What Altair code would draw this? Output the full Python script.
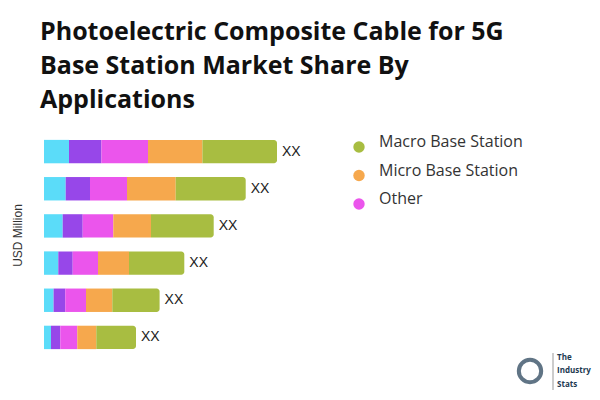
import altair as alt
import pandas as pd

categories = ["C1", "C2", "C3", "C4", "C5", "C6"]
series = ["Segment A", "Segment B", "Other", "Micro Base Station", "Macro Base Station"]
colors = ["#5BDCF9", "#9747E9", "#EB55EC", "#F6A84D", "#A8BD41"]
seg_a = [25.0, 21.7, 18.7, 14.3, 9.6, 7.0]
seg_b = [32.4, 24.3, 20.0, 14.4, 11.7, 9.3]
other = [46.6, 37.0, 30.6, 25.3, 20.7, 17.0]
micro = [54.4, 48.7, 37.7, 31.0, 26.3, 19.0]
macro = [74.6, 70.0, 62.7, 55.3, 47.3, 39.7]
label_text = "XX"
legend_items = ["Macro Base Station", "Micro Base Station", "Other"]
logo_lines = ["The", "Industry", "Stats"]

rows = []
for i, c in enumerate(categories):
    for j, (s, vals) in enumerate(zip(series, [seg_a, seg_b, other, micro, macro])):
        rows.append({"cat": c, "series": s, "order": j, "value": vals[i]})
df = pd.DataFrame(rows)

color_scale = alt.Scale(domain=series, range=colors)
y_enc = alt.Y("cat:N", sort=categories,
              scale=alt.Scale(paddingInner=0.37, paddingOuter=0.185),
              axis=alt.Axis(labels=False, ticks=False, domain=False, title="USD Million",
                            titleFont="Liberation Sans", titleFontSize=12, titleFontWeight="normal",
                            titleColor="#333333", titleAngle=270, titleX=-27, titleY=102,
                            titleBaseline="middle", titleAlign="center"))
x_scale = alt.Scale(domain=[0, 300], nice=False)

base = alt.Chart(df).transform_stack(
    stack="value", groupby=["cat"], as_=["x0", "x1"],
    sort=[alt.SortField("order", order="ascending")])

bars = base.transform_filter(alt.datum.series != "Macro Base Station").mark_bar().encode(
    x=alt.X("x0:Q", scale=x_scale, axis=None),
    x2="x1:Q",
    y=y_enc,
    color=alt.Color("series:N", scale=color_scale,
                    legend=alt.Legend(values=legend_items,
                                      title=None, orient="none", legendX=307, legendY=6,
                                      symbolType="circle", symbolSize=130, labelFontSize=16,
                                      labelFont="Open Sans", labelColor="#333333",
                                      labelOffset=12, rowPadding=9.5, labelBaseline="alphabetic",
                                      padding=0)),
)
end_bars = base.transform_filter(alt.datum.series == "Macro Base Station").mark_bar(
    cornerRadiusTopRight=3, cornerRadiusBottomRight=3).encode(
    x=alt.X("x0:Q", scale=x_scale, axis=None),
    x2="x1:Q",
    y=y_enc,
    color=alt.Color("series:N", scale=color_scale),
)

labels = alt.Chart(df).transform_aggregate(total="sum(value)", groupby=["cat"]).transform_calculate(
    lab=f"'{label_text}'").mark_text(align="left", baseline="middle", dx=5, fontSize=14,
                                     font="Liberation Sans", color="#222222").encode(
    x=alt.X("total:Q", scale=x_scale, axis=None),
    y=alt.Y("cat:N", sort=categories),
    text="lab:N",
)

logo_df = pd.DataFrame({"t": logo_lines, "yy": [225, 238, 252]})
logo = alt.Chart(logo_df).mark_text(align="left", baseline="middle", fontSize=8, fontWeight="bold",
                                    font="Open Sans", color="#1d3a52").encode(
    x=alt.value(513), y=alt.Y("yy:Q", scale=None), text="t:N")
ring = alt.Chart(pd.DataFrame({"a": [1]})).mark_point(shape="circle", filled=False, size=500,
                                                       strokeWidth=4, color="#1d3a52").encode(
    x=alt.value(486), y=alt.value(238))
sep = alt.Chart(pd.DataFrame({"a": [1]})).mark_rule(color="#999999", strokeWidth=1).encode(
    x=alt.value(509), y=alt.value(220), y2=alt.value(257))

chart = alt.layer(bars, end_bars, labels, logo, ring, sep).resolve_scale(y="shared").properties(
    width=300, height=223,
    autosize=alt.AutoSizeParams(type="none"),
    padding={"left": 44, "top": 133, "right": 256, "bottom": 44},
    title=alt.TitleParams(
        text=["Photoelectric Composite Cable for 5G", "Base Station Market Share By", "Applications"],
        anchor="start", frame="group", font="Open Sans", fontSize=25, fontWeight="bold",
        color="#111111", lineHeight=34, dx=-4, offset=20),
).configure_view(stroke=None)

chart.save("out.html", embed_options={"renderer": "svg", "actions": False})
